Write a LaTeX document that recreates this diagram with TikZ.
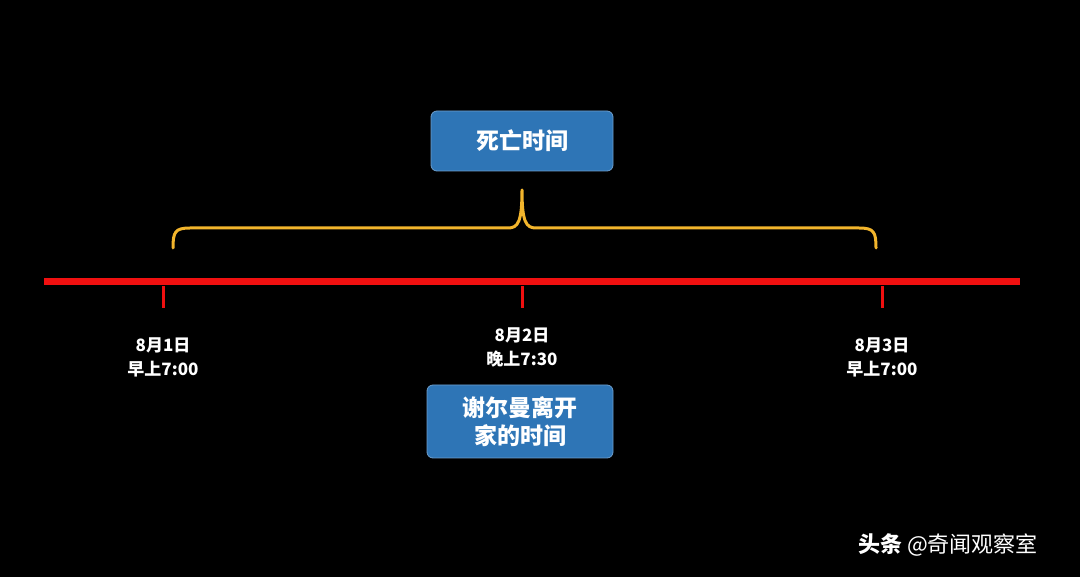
\documentclass[tikz,border=0pt]{standalone}
\usepackage{fontspec}
\newfontfamily\cjk{Noto Sans CJK SC}
\definecolor{boxblue}{HTML}{2E75B6}
\definecolor{gold}{HTML}{F2B52C}
\definecolor{tred}{HTML}{F01010}
\begin{document}
\begin{tikzpicture}[x=1pt,y=-1pt,
  blue box/.style={fill=boxblue,draw=boxblue!70!white,line width=0.8pt,rounded corners=6pt,text=white,font=\cjk\bfseries\fontsize{23}{30}\selectfont,align=center,inner sep=0pt},
  datelbl/.style={text=white,font=\cjk\bfseries\fontsize{17}{24}\selectfont,align=center,inner sep=0pt},
  tick/.style={draw=tred,line width=3pt}]
\fill[black] (0,0) rectangle (1080,577);
\useasboundingbox (0,0) rectangle (1080,577);
\coordinate (ls) at (44,282); \coordinate (le) at (1020,282);
\draw[tred,line width=7pt] (ls) -- (le);
\foreach \n/\x in {a/163,b/522,c/882}{
  \coordinate (t\n1) at (\x,286); \coordinate (t\n2) at (\x,308);
  \draw[tick] (t\n1) -- (t\n2);}
\draw[gold,line width=3pt,line cap=round,line join=round]
 (173,248) .. controls (173,232) and (175,228) .. (190,228) -- (508,228)
 .. controls (518,228) and (522,222) .. (522,190)
 .. controls (522,222) and (526,228) .. (536,228) -- (859,228)
 .. controls (874,228) and (876,232) .. (876,248);
\node[blue box,minimum width=182pt,minimum height=60pt] (death) at (522,141) {死亡时间};
\node[blue box,minimum width=186pt,minimum height=73pt] (leave) at (520,421.5) {谢尔曼离开\\[-2pt]家的时间};
\node[datelbl] (d1) at (163,357) {8月1日\\早上7:00};
\node[datelbl] (d2) at (522,347) {8月2日\\晚上7:30};
\node[datelbl] (d3) at (882,357) {8月3日\\早上7:00};
\node[text=white,font=\cjk\fontsize{22}{26}\selectfont,inner sep=0pt] (wm) at (948,545) {\textbf{头条} @奇闻观察室};
\end{tikzpicture}
\end{document}
